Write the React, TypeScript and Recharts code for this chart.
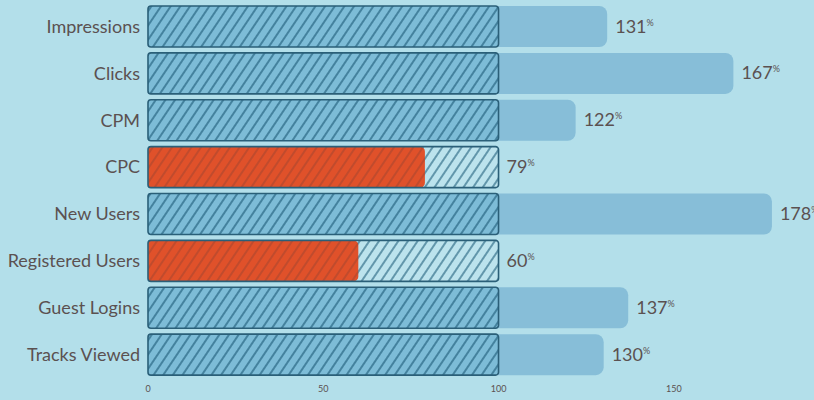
import { BarChart, Bar, XAxis, YAxis, Cell, LabelList } from "recharts"

const categories = [
  "Impressions",
  "Clicks",
  "CPM",
  "CPC",
  "New Users",
  "Registered Users",
  "Guest Logins",
  "Tracks Viewed",
]
const percents = [131, 167, 122, 79, 178, 60, 137, 130]
const targetValue = 100
const xTicks = [0, 50, 100, 150]

const data = categories.map((name, i) => ({
  name,
  pct: percents[i],
  base: targetValue,
  under: percents[i] < targetValue ? percents[i] : 0,
  frame: targetValue,
  labelAt: Math.max(percents[i], targetValue),
}))

const textColor = "#5b5151"
const font = "Lato, 'Open Sans', sans-serif"

function PctLabel(props: any) {
  const { x, y, width, height, index } = props
  const v = percents[index]
  return (
    <text
      x={x + width + 8}
      y={y + height / 2 + 6}
      fill={textColor}
      fontFamily={font}
      fontSize={18}
    >
      {v}
      <tspan fontSize={9} dy={-7}>%</tspan>
    </text>
  )
}

export default function App() {
  return (
    <div
      style={{
        position: "absolute",
        left: 0,
        top: 0,
        width: 814,
        height: 400,
        background: "#b3dfea",
      }}
    >
      <BarChart
        width={814}
        height={400}
        data={data}
        layout="vertical"
        margin={{ top: 3, right: 0, bottom: 0, left: 0 }}
        barSize={41}
        barGap={-41}
      >
        <defs>
          <pattern id="hatchBlue" patternUnits="userSpaceOnUse" width={8} height={8} patternTransform="rotate(34)">
            <rect width={8} height={8} fill="#7dbcd7" />
            <line x1={1} y1={0} x2={1} y2={8} stroke="#25637f" strokeWidth={1.3} />
          </pattern>
          <pattern id="hatchLight" patternUnits="userSpaceOnUse" width={8} height={8} patternTransform="rotate(34)">
            <rect width={8} height={8} fill="#bce3ed" />
            <line x1={1} y1={0} x2={1} y2={8} stroke="#25637f" strokeWidth={1.2} />
          </pattern>
          <pattern id="hatchRed" patternUnits="userSpaceOnUse" width={8} height={8} patternTransform="rotate(34)">
            <rect width={8} height={8} fill="#e0512a" />
            <line x1={1} y1={0} x2={1} y2={8} stroke="#b0472e" strokeWidth={1.3} />
          </pattern>
        </defs>
        <XAxis
          type="number"
          domain={[0, 190]}
          ticks={xTicks}
          axisLine={false}
          tickLine={false}
          height={22}
          tick={{ fontSize: 9, fill: textColor, fontFamily: font }}
        />
        <YAxis
          type="category"
          dataKey="name"
          width={148}
          axisLine={false}
          tickLine={false}
          tick={{ fontSize: 18, fill: textColor, fontFamily: font }}
        />
        <Bar dataKey="pct" fill="#87bed8" radius={[0, 8, 8, 0]} isAnimationActive={false} />
        <Bar dataKey="base" radius={3} isAnimationActive={false}>
          {data.map((d, i) => (
            <Cell key={i} fill={d.pct < targetValue ? "url(#hatchLight)" : "url(#hatchBlue)"} />
          ))}
        </Bar>
        <Bar dataKey="under" fill="url(#hatchRed)" radius={[2, 5, 5, 2]} isAnimationActive={false} />
        <Bar
          dataKey="frame"
          fill="none"
          stroke="#2a5f78"
          strokeWidth={1.6}
          radius={3}
          isAnimationActive={false}
        />
        <Bar dataKey="labelAt" fill="transparent" isAnimationActive={false}>
          <LabelList dataKey="labelAt" content={PctLabel} />
        </Bar>
      </BarChart>
    </div>
  )
}
